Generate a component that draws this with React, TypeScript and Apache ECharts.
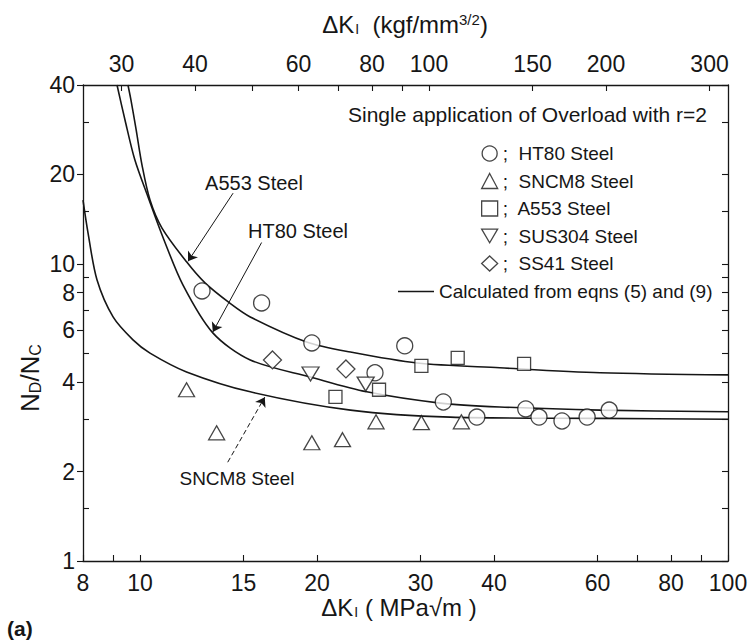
import React, { useEffect, useRef } from 'react';
import * as echarts from 'echarts';

const FONT = "'Liberation Sans', Arial, sans-serif";
const INK = '#161616';
const KGF_TO_MPA = 0.3101; // 1 kgf/mm^3/2 expressed in MPa·m^1/2

// ---- axis ticks / labels ----
const xLabelValues = [8, 10, 15, 20, 30, 40, 60, 80, 100];
const xTickValues = [8, 9, 10, 15, 20, 30, 40, 60, 70, 80, 90, 100];
const topLabelValues = [30, 40, 60, 80, 100, 150, 200, 300];
const topTickValues = [30, 40, 50, 60, 70, 80, 90, 100, 150, 200, 300];
const yLabelValues = [1, 2, 4, 6, 8, 10, 20, 40];
const yMinorTickValues = [1.5, 3, 5, 7, 9, 15, 30];

// ---- experimental points (ΔK in MPa√m, ND/NC) ----
const seriesNames = ['HT80 Steel', 'SNCM8 Steel', 'A553 Steel', 'SUS304 Steel', 'SS41 Steel'];
const ht80X = [12.75, 16.1, 19.6, 25.1, 28.2, 32.8, 37.4, 45.3, 47.7, 52.2, 57.6, 62.8];
const ht80Y = [8.11, 7.39, 5.42, 4.30, 5.30, 3.43, 3.05, 3.25, 3.05, 2.96, 3.05, 3.22];
const sncm8X = [12.0, 13.5, 19.6, 22.1, 25.2, 30.1, 35.2];
const sncm8Y = [3.77, 2.70, 2.50, 2.56, 2.94, 2.92, 2.94];
const a553X = [21.5, 25.5, 30.1, 34.7, 45.0];
const a553Y = [3.57, 3.77, 4.54, 4.83, 4.61];
const sus304X = [19.5, 24.2];
const sus304Y = [4.26, 3.94];
const ss41X = [16.8, 22.4];
const ss41Y = [4.75, 4.43];

// ---- calculated curves ----
const curveHT80X = [9.14, 9.43, 9.80, 10.32, 10.94, 11.83, 13.3, 15.4, 19.5, 24.3, 32.4, 40.9, 60.6, 100];
const curveHT80Y = [40, 30.5, 22.4, 16.8, 12.3, 8.50, 5.86, 4.75, 4.16, 3.71, 3.40, 3.30, 3.22, 3.18];
const curveA553X = [9.54, 9.65, 9.85, 10.08, 10.40, 10.90, 12.0, 12.9, 14.2, 15.4, 19.2, 22.8, 29.6, 40.9, 60.6, 100];
const curveA553Y = [40, 35.7, 28.3, 21.5, 16.4, 13.2, 10.16, 8.63, 7.39, 6.63, 5.46, 5.05, 4.64, 4.47, 4.30, 4.23];
const curveSNCM8X = [8, 8.16, 8.45, 9.0, 9.73, 10.4, 12.0, 15.4, 22.8, 33.7, 60.6, 100];
const curveSNCM8Y = [16.4, 12.7, 8.84, 6.63, 5.55, 5.01, 4.33, 3.71, 3.22, 3.05, 3.02, 3.0];

const CURVE_NAME = 'Calculated from eqns (5) and (9)';
const INVERTED_TRIANGLE = 'path://M0,0L20,0L10,17Z';

const zip = (xs: number[], ys: number[]) => xs.map((x, i) => [x, ys[i]]);
const L = (v: number) => Math.log10(v);
const fmt = (v: number) => String(Math.round(Math.pow(10, v)));

const hollow = { color: '#fff', borderColor: INK, borderWidth: 1.3 };

export default function App() {
  const ref = useRef<HTMLDivElement>(null);
  useEffect(() => {
    const chart = echarts.init(ref.current!, null, { renderer: 'svg' });
    const axisLineStyle = { color: INK, width: 1.3 };
    const tickStyle = { color: INK, width: 1.1 };
    const labelStyle = { color: INK, fontFamily: FONT, fontSize: 23 };
    const curve = (name: string, xs: number[], ys: number[], extra: any = {}) => ({
      type: 'line',
      name,
      data: zip(xs, ys),
      xAxisIndex: 0,
      yAxisIndex: 0,
      symbol: 'none',
      smooth: 0.3,
      lineStyle: { color: INK, width: 1.6 },
      itemStyle: { color: INK },
      silent: true,
      z: 2,
      ...extra,
    });
    const scatter = (name: string, xs: number[], ys: number[], symbol: string, size: any) => ({
      type: 'scatter',
      name,
      data: zip(xs, ys),
      xAxisIndex: 0,
      yAxisIndex: 0,
      symbol,
      symbolSize: size,
      itemStyle: hollow,
      z: 5,
      silent: true,
    });
    const option: any = {
      animation: false,
      backgroundColor: '#fff',
      textStyle: { fontFamily: FONT, color: INK },
      grid: { left: 83, top: 85, width: 645, height: 476, outerBoundsMode: 'none', containLabel: false },
      xAxis: [
        {
          type: 'log', logBase: 10, min: 8, max: 100, position: 'bottom',
          axisLine: { show: true, onZero: false, lineStyle: axisLineStyle },
          axisTick: { show: false }, axisLabel: { show: false }, splitLine: { show: false }, minorTick: { show: false },
        },
        {
          type: 'value', min: L(8), max: 2, position: 'bottom',
          axisLine: { show: false, onZero: false },
          axisTick: { show: true, inside: true, length: 6, customValues: xTickValues.map(L), lineStyle: tickStyle },
          axisLabel: { show: true, customValues: xLabelValues.map(L), formatter: fmt, margin: 10, ...labelStyle },
          splitLine: { show: false },
        },
        {
          type: 'value', min: L(8 / KGF_TO_MPA), max: L(100 / KGF_TO_MPA), position: 'top',
          axisLine: { show: true, onZero: false, lineStyle: axisLineStyle },
          axisTick: { show: true, inside: true, length: 6, customValues: topTickValues.map(L), lineStyle: tickStyle },
          axisLabel: { show: true, customValues: topLabelValues.map(L), formatter: fmt, margin: 10, ...labelStyle },
          splitLine: { show: false },
        },
      ],
      yAxis: [
        {
          type: 'log', logBase: 10, min: 1, max: 40, position: 'left',
          axisLine: { show: true, onZero: false, lineStyle: axisLineStyle },
          axisTick: { show: false }, axisLabel: { show: false }, splitLine: { show: false }, minorTick: { show: false },
        },
        {
          type: 'value', min: 0, max: L(40), position: 'left',
          axisLine: { show: false, onZero: false },
          axisTick: { show: true, inside: false, length: 6, customValues: yLabelValues.map(L), lineStyle: tickStyle },
          axisLabel: { show: true, customValues: yLabelValues.map(L), formatter: fmt, margin: 8, ...labelStyle },
          splitLine: { show: false },
        },
        {
          type: 'value', min: 0, max: L(40), position: 'left',
          axisLine: { show: false, onZero: false },
          axisTick: { show: true, inside: true, length: 6, customValues: yMinorTickValues.map(L), lineStyle: tickStyle },
          axisLabel: { show: false },
          splitLine: { show: false },
        },
        {
          type: 'value', min: 0, max: L(40), position: 'right',
          axisLine: { show: true, onZero: false, lineStyle: axisLineStyle },
          axisTick: { show: true, inside: true, length: 6, customValues: [...yLabelValues, ...yMinorTickValues].map(L), lineStyle: tickStyle },
          axisLabel: { show: false },
          splitLine: { show: false },
        },
      ],
      legend: [
        {
          data: [
            seriesNames[0],
            seriesNames[1],
            seriesNames[2],
            { name: seriesNames[3], icon: INVERTED_TRIANGLE },
            seriesNames[4],
          ],
          orient: 'vertical',
          left: 476,
          top: 139,
          itemWidth: 16,
          itemHeight: 15,
          itemGap: 8.5,
          selectedMode: false,
          formatter: ';  {name}',
          itemStyle: hollow,
          textStyle: { fontFamily: FONT, fontSize: 19, color: INK },
        },
        {
          data: [{ name: CURVE_NAME, icon: 'rect', itemStyle: { color: INK } }],
          orient: 'vertical',
          left: 393,
          top: 277,
          itemWidth: 36,
          itemHeight: 1.6,
          selectedMode: false,
          textStyle: { fontFamily: FONT, fontSize: 19, color: INK },
        },
      ],
      series: [
        curve(CURVE_NAME, curveHT80X, curveHT80Y, {
          markLine: {
            silent: true,
            symbol: ['none', 'arrow'],
            symbolSize: 9,
            label: { show: false },
            lineStyle: { color: INK, width: 1, type: 'solid' },
            emphasis: { disabled: true },
            data: [
              [{ coord: [14.4, 17.3] }, { coord: [12.07, 10.2] }],
              [{ coord: [16.1, 11.8] }, { coord: [13.3, 5.9] }],
              [{ coord: [14.1, 2.15], lineStyle: { type: [5, 3] } }, { coord: [16.3, 3.56] }],
            ],
          },
        }),
        curve(CURVE_NAME, curveA553X, curveA553Y),
        curve(CURVE_NAME, curveSNCM8X, curveSNCM8Y),
        scatter(seriesNames[0], ht80X, ht80Y, 'circle', 16),
        scatter(seriesNames[1], sncm8X, sncm8Y, 'triangle', [16, 14]),
        scatter(seriesNames[2], a553X, a553Y, 'rect', 13),
        scatter(seriesNames[3], sus304X, sus304Y, INVERTED_TRIANGLE, [17, 14]),
        scatter(seriesNames[4], ss41X, ss41Y, 'diamond', 18),
      ],
      graphic: [
        {
          type: 'text', x: 405, y: 24,
          style: {
            text: '{t|ΔK}{s|I}{t|  (kgf/mm}{p|3/2}{t|)}',
            align: 'center', verticalAlign: 'middle', fill: INK,
            rich: {
              t: { fontFamily: FONT, fontSize: 24, fill: INK },
              s: { fontFamily: FONT, fontSize: 14, fill: INK, padding: [10, 0, 0, 1] },
              p: { fontFamily: FONT, fontSize: 15, fill: INK, padding: [0, 0, 10, 0] },
            },
          },
        },
        {
          type: 'text', x: 399, y: 607,
          style: {
            text: '{t|ΔK}{s|I}{t| ( MPa√m )}',
            align: 'center', verticalAlign: 'middle', fill: INK,
            rich: {
              t: { fontFamily: FONT, fontSize: 24, fill: INK },
              s: { fontFamily: FONT, fontSize: 14, fill: INK, padding: [10, 0, 0, 1] },
            },
          },
        },
        {
          type: 'text', x: 30, y: 378, rotation: Math.PI / 2,
          style: {
            text: '{t|N}{s|D}{t|/N}{s|C}',
            align: 'center', verticalAlign: 'middle', fill: INK,
            rich: {
              t: { fontFamily: FONT, fontSize: 26, fill: INK },
              s: { fontFamily: FONT, fontSize: 16, fill: INK, padding: [10, 0, 0, 0] },
            },
          },
        },
        {
          type: 'text', x: 7, y: 628,
          style: { text: '(a)', fontFamily: FONT, fontSize: 21, fontWeight: 'bold', fill: INK, align: 'left', verticalAlign: 'middle' },
        },
        {
          type: 'text', x: 348, y: 114,
          style: { text: 'Single application of Overload with r=2', fontFamily: FONT, fontSize: 21, fill: INK, align: 'left', verticalAlign: 'middle' },
        },
        {
          type: 'text', x: 254, y: 183,
          style: { text: 'A553 Steel', fontFamily: FONT, fontSize: 20, fill: INK, align: 'center', verticalAlign: 'middle' },
        },
        {
          type: 'text', x: 298, y: 231,
          style: { text: 'HT80 Steel', fontFamily: FONT, fontSize: 20, fill: INK, align: 'center', verticalAlign: 'middle' },
        },
        {
          type: 'text', x: 237, y: 478,
          style: { text: 'SNCM8 Steel', fontFamily: FONT, fontSize: 19, fill: INK, align: 'center', verticalAlign: 'middle' },
        },
      ],
    };
    chart.setOption(option);
    return () => chart.dispose();
  }, []);
  return <div ref={ref} style={{ position: 'fixed', left: 0, top: 0, width: 752, height: 641, background: '#fff' }} />;
}
